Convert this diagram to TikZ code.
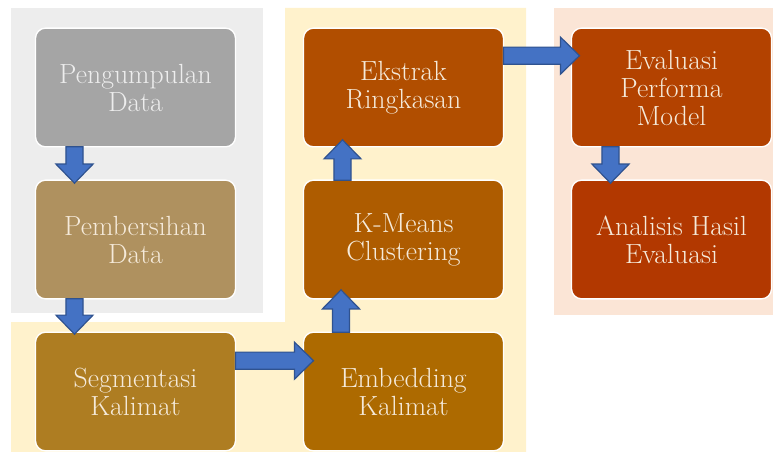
\documentclass[tikz,border=0pt]{standalone}
\usepackage{fontspec}
\usetikzlibrary{positioning,calc}

\definecolor{graypanel}{HTML}{EDEDED}
\definecolor{yellowpanel}{HTML}{FFF2CC}
\definecolor{pinkpanel}{HTML}{FBE5D6}
\definecolor{arrowblue}{HTML}{4472C4}
\definecolor{arrowedge}{HTML}{2F528F}
\definecolor{stagetext}{HTML}{F5EADA}
\definecolor{cpeng}{HTML}{A5A5A5}
\definecolor{cpemb}{HTML}{AF915F}
\definecolor{csegm}{HTML}{AE7D22}
\definecolor{cembd}{HTML}{AD6A00}
\definecolor{ckmns}{HTML}{AE5C00}
\definecolor{cekst}{HTML}{B14E00}
\definecolor{ceval}{HTML}{B34200}
\definecolor{canls}{HTML}{B23800}

\tikzset{
  stage/.style={rectangle, rounded corners=7.5pt, draw=white, line width=1pt,
    minimum width=150pt, minimum height=89pt, align=center, text=stagetext,
    font=\fontsize{20.8}{21}\selectfont, inner sep=2pt, outer sep=0pt},
  blockarrow/.style={fill=arrowblue, draw=arrowedge, line width=0.9pt, line join=miter}
}

% block arrow from #1 to #2
\newcommand{\barrow}[2]{%
  \path let \p1=(#1), \p2=(#2) in
    \pgfextra{%
      \pgfmathsetmacro{\barang}{atan2(\y2-\y1,\x2-\x1)}%
      \pgfmathsetmacro{\barlen}{veclen(\x2-\x1,\y2-\y1)}%
      \xdef\barang{\barang}\xdef\barlen{\barlen}%
      \xdef\barx{\x1}\xdef\bary{\y1}};
  \draw[blockarrow, shift={(\barx,\bary)}, rotate=\barang]
    (0pt,-6.4pt) -- (\barlen pt-14.3pt,-6.4pt) -- (\barlen pt-14.3pt,-13.9pt)
    -- (\barlen pt,0pt) -- (\barlen pt-14.3pt,13.9pt) -- (\barlen pt-14.3pt,6.4pt)
    -- (0pt,6.4pt) -- cycle;}

\begin{document}
\begin{tikzpicture}[x=0.75pt, y=-0.75pt]
\useasboundingbox (0,0) rectangle (773,452);

% panels
\fill[graypanel] (11,8) rectangle (263,313);
\fill[yellowpanel] (285,8) -- (526,8) -- (526,452) -- (11,452) -- (11,322) -- (285,322) -- cycle;
\fill[pinkpanel] (554,8) rectangle (773,315);

% stages
\node[stage, fill=cpeng, text=graypanel] (peng) at (135.5,87.5) {Pengumpulan\\Data};
\node[stage, fill=cpemb, below=25pt of peng] (pemb) {Pembersihan\\Data};
\node[stage, fill=csegm, below=25pt of pemb] (segm) {Segmentasi\\Kalimat};
\node[stage, fill=cembd, right=51pt of segm] (embd) {Embedding\\Kalimat};
\node[stage, fill=ckmns, right=51pt of pemb] (kmns) {K-Means\\Clustering};
\node[stage, fill=cekst, right=51pt of peng] (ekst) {Ekstrak\\Ringkasan};
\node[stage, fill=ceval, right=51pt of ekst] (eval) {Evaluasi\\Performa\\Model};
\node[stage, fill=canls, right=51pt of kmns] (anls) {Analisis Hasil\\Evaluasi};

% arrows
\barrow{$(peng.south west)+(39,0)$}{$(pemb.north west)+(39,3)$}
\barrow{$(pemb.south west)+(39,0)$}{$(segm.north west)+(39,2)$}
\barrow{$(segm.north east)+(0,28.5)$}{$(embd.north west)+(10,28.5)$}
\barrow{$(embd.north west)+(37.5,0)$}{$(kmns.south west)+(37.5,-9)$}
\barrow{$(kmns.north west)+(39,0)$}{$(ekst.south west)+(39,-7)$}
\barrow{$(ekst.north east)+(0,27.5)$}{$(eval.north west)+(8,27.5)$}
\barrow{$(eval.south west)+(39,0)$}{$(anls.north west)+(39,3)$}
\end{tikzpicture}
\end{document}
